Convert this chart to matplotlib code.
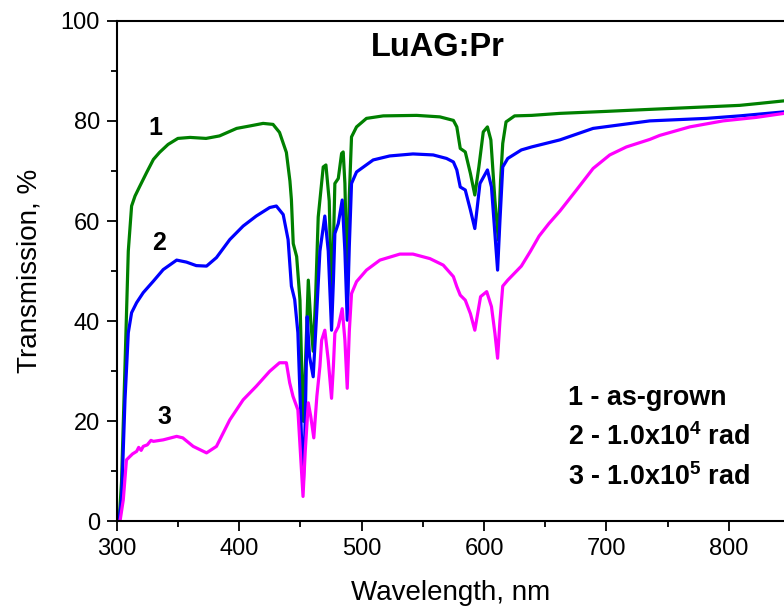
import numpy as np
import matplotlib
matplotlib.use('Agg')
import matplotlib.pyplot as plt
from matplotlib.ticker import MultipleLocator

plt.rcParams['font.family'] = ['Liberation Sans', 'DejaVu Sans']
plt.rcParams['mathtext.fontset'] = 'custom'
plt.rcParams['mathtext.rm'] = 'Liberation Sans'
plt.rcParams['mathtext.bf'] = 'Liberation Sans:bold'

# curve 1 - as-grown
wl_1 = [300, 302, 304, 306.8, 309.5, 312.2, 315, 319, 324.5, 330, 335, 342, 350, 360,
        373, 384, 398, 409, 419.6, 427.7, 433, 438.6, 441.5, 442.7, 444.2, 447, 449.7,
        451.8, 452.5, 454, 456.5, 458.5, 460.5, 462.5, 464.6, 468.7, 470.9, 473.6, 475.5,
        477, 478.2, 481, 483.7, 485, 486.4, 488.5, 490, 491.8, 495.9, 504, 517.7, 545,
        564, 575, 577.8, 580.6, 584.7, 588.9, 592.5, 595.8, 599.4, 602.8, 605.6, 608.9,
        611.7, 613.5, 615.3, 618, 625, 639, 661.9, 700, 735.4, 781.6, 808.8, 825.2, 845]
tr_1 = [0, 0, 8, 31, 54, 63, 65, 67, 69.7, 72.3, 73.7, 75.3, 76.5, 76.7,
        76.5, 77, 78.5, 79, 79.5, 79.3, 77.7, 73.7, 68, 64.3, 55.5, 52.9, 44.2,
        24, 20, 30, 48.2, 40, 34, 45, 60.8, 70.8, 71.2, 64, 44,
        55, 67.5, 68.5, 73.5, 73.8, 67.5, 45, 65, 76.8, 78.8, 80.5, 81, 81.1,
        80.8, 80.1, 78.8, 74.5, 73.8, 69.5, 65.2, 70.8, 77.8, 78.8, 76.2, 64.2,
        56.2, 68, 75.5, 79.8, 81, 81.1, 81.5, 81.9, 82.3, 82.8, 83.1, 83.5, 84]

# curve 2 - 1.0x10^4 rad
wl_2 = [300, 302, 304, 306.8, 309.5, 312.2, 316.3, 321.7, 330, 338, 349, 357, 365,
        373.4, 381.5, 392.4, 403.3, 414, 425, 430.4, 436, 440, 442.7, 445.4, 448,
        450.8, 452.5, 454, 455.6, 457.5, 460.5, 463, 466, 470, 472.8, 475.5, 477,
        478.2, 481, 484.2, 486.4, 488.3, 490, 491.8, 495.9, 509.5, 523, 542, 558.5,
        569.4, 575, 577.8, 580.6, 584.7, 588.9, 592.5, 596.7, 602.8, 606.1, 608.9,
        611.1, 613, 615.3, 619.4, 630.5, 638.9, 661.9, 689.1, 735.4, 781.6, 808.8, 845]
tr_2 = [0, 0.5, 4.3, 24.3, 37.7, 41.7, 43.7, 45.7, 48, 50.3, 52.2, 51.8, 51.1,
        51, 52.7, 56.3, 59, 61, 62.7, 63, 61.3, 56.3, 47, 44.3, 37.7,
        17.7, 8, 20, 40.9, 33, 28.9, 40, 54, 61, 54, 38.2, 48,
        57.5, 59.5, 64.2, 54, 40.2, 55, 67.5, 69.8, 72.2, 73, 73.4, 73.2,
        72.5, 71.8, 70.2, 66.8, 66.2, 62.2, 58.5, 67.5, 70.2, 66.8, 57.5,
        50.2, 60, 70.8, 72.5, 74.2, 74.8, 76.2, 78.5, 80, 80.5, 81, 81.8]

# curve 3 - 1.0x10^5 rad
wl_3 = [300, 302.7, 305.4, 308, 310.9, 313, 316.3, 318, 320, 321.7, 325, 328, 330,
        338, 349, 354, 362.5, 373.4, 381.5, 392.4, 403.3, 414, 425, 433, 438.6,
        441.3, 444, 448, 450.5, 452.2, 454, 456.5, 458.5, 461, 463.5, 466, 467.4,
        470, 472.8, 475.5, 477, 478.2, 481, 484.2, 486.4, 488.3, 490, 491.8, 495.9,
        504, 515, 531.3, 542, 555.8, 566.7, 575, 577.8, 580.6, 584.7, 588.9, 592.5,
        597.2, 602.2, 606.1, 608.9, 611.1, 613, 615.3, 619.4, 630.5, 638, 645, 653,
        662, 675.5, 689.1, 702.7, 716.3, 735.4, 743.5, 768, 795.2, 822.4, 845]
tr_3 = [0, 0, 4.3, 12.3, 13, 13.5, 14, 14.8, 14.2, 15, 15.3, 16.2, 16,
        16.3, 17, 16.7, 15, 13.7, 15, 20.3, 24.3, 27, 30, 31.7, 31.7,
        27.7, 25, 22.3, 12, 5, 14, 23.7, 21, 16.7, 25, 31, 36.2,
        38.2, 32.2, 24.6, 31, 37.6, 38.9, 42.5, 36.2, 26.6, 38, 45.5, 47.9,
        50.2, 52.2, 53.4, 53.4, 52.5, 51.2, 48.9, 46.9, 45.2, 44.2, 41.5, 38.2,
        44.9, 45.9, 42.9, 37.6, 32.6, 40, 47, 48.2, 51, 54, 57, 59.5,
        62, 66.2, 70.5, 73.2, 74.8, 76.3, 77.1, 78.8, 80, 80.7, 81.5]

legend_lines = ['1 - as-grown',
                r'2 - 1.0x10$^{\mathbf{4}}$ rad',
                r'3 - 1.0x10$^{\mathbf{5}}$ rad']

fig = plt.figure(figsize=(7.84, 6.10), dpi=100)
ax = fig.add_axes([0.1488, 0.1451, 0.8512, 0.8209])

ax.plot(wl_1, tr_1, color='#008000', lw=2.3)
ax.plot(wl_2, tr_2, color='#0000ff', lw=2.3)
ax.plot(wl_3, tr_3, color='#ff00ff', lw=2.3)

ax.set_xlim(300, 845)
ax.set_ylim(0, 100)
ax.xaxis.set_major_locator(MultipleLocator(100))
ax.xaxis.set_minor_locator(MultipleLocator(50))
ax.yaxis.set_major_locator(MultipleLocator(20))
ax.yaxis.set_minor_locator(MultipleLocator(10))
ax.tick_params(which='major', direction='out', length=7, width=1.3, labelsize=17, pad=5)
ax.tick_params(which='minor', direction='out', length=4, width=1.3)
ax.tick_params(top=False, right=False)
for s in ['left', 'bottom', 'top']:
    ax.spines[s].set_linewidth(1.5)
ax.spines['right'].set_visible(False)

ax.set_xlabel('Wavelength, nm', fontsize=20, labelpad=14)
ax.set_ylabel('Transmission, %', fontsize=20, labelpad=13)

ax.text(562, 94.7, 'LuAG:Pr', fontsize=23.5, fontweight='bold', ha='center', va='center')
ax.text(331.3, 78.5, '1', fontsize=18, fontweight='bold', ha='center', va='center')
ax.text(334.5, 55.6, '2', fontsize=18, fontweight='bold', ha='center', va='center')
ax.text(339, 20.8, '3', fontsize=18, fontweight='bold', ha='center', va='center')
for t, yy in zip(legend_lines, [24.6, 16.9, 8.9]):
    ax.text(668.4, yy, t, fontsize=19.4, fontweight='bold', ha='left', va='center')

fig.savefig('out.png', dpi=100)
